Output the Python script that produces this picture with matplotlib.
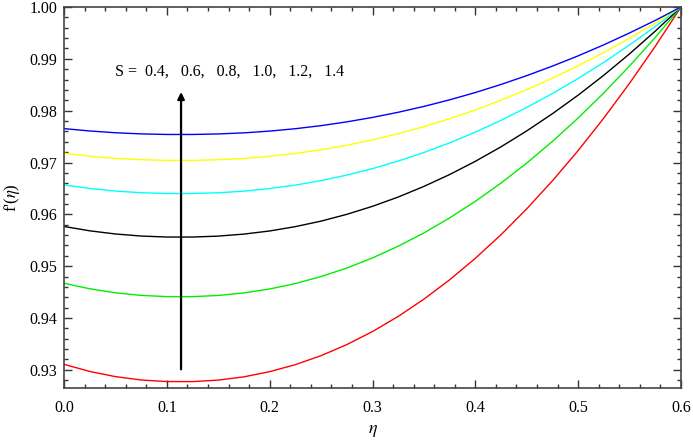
import matplotlib
matplotlib.use("Agg")
import matplotlib.pyplot as plt
from matplotlib.ticker import MultipleLocator

plt.rcParams['font.family'] = ['Liberation Serif', 'DejaVu Serif']
plt.rcParams['mathtext.fontset'] = 'stix'

eta = [0.0, 0.025, 0.05, 0.075, 0.1, 0.125, 0.15, 0.175, 0.2, 0.225, 0.25,
       0.275, 0.3, 0.325, 0.35, 0.375, 0.4, 0.425, 0.45, 0.475, 0.5, 0.525,
       0.55, 0.575, 0.6]

S_labels = ["0.4", "0.6", "0.8", "1.0", "1.2", "1.4"]

f_S04 = [0.93106, 0.92969, 0.92869, 0.92804, 0.92774, 0.92773, 0.92802, 0.92865,
         0.92965, 0.93100, 0.93274, 0.93487, 0.93739, 0.94031, 0.94364, 0.94737,
         0.95152, 0.95608, 0.96107, 0.96648, 0.97231, 0.97859, 0.98530, 0.99243, 1.0]
f_S06 = [0.94670, 0.94564, 0.94486, 0.94436, 0.94413, 0.94412, 0.94435, 0.94484,
         0.94560, 0.94665, 0.94800, 0.94964, 0.95159, 0.95385, 0.95642, 0.95931,
         0.96251, 0.96604, 0.96990, 0.97408, 0.97859, 0.98344, 0.98864, 0.99414, 1.0]
f_S08 = [0.95766, 0.95682, 0.95621, 0.95581, 0.95562, 0.95562, 0.95580, 0.95619,
         0.95679, 0.95763, 0.95869, 0.96000, 0.96155, 0.96334, 0.96539, 0.96768,
         0.97023, 0.97303, 0.97610, 0.97942, 0.98300, 0.98685, 0.99097, 0.99535, 1.0]
f_S10 = [0.96567, 0.96499, 0.96449, 0.96417, 0.96402, 0.96402, 0.96416, 0.96447,
         0.96497, 0.96564, 0.96651, 0.96757, 0.96882, 0.97028, 0.97193, 0.97379,
         0.97586, 0.97813, 0.98062, 0.98331, 0.98621, 0.98934, 0.99268, 0.99623, 1.0]
f_S12 = [0.97178, 0.97121, 0.97080, 0.97054, 0.97041, 0.97041, 0.97053, 0.97079,
         0.97120, 0.97175, 0.97246, 0.97333, 0.97437, 0.97556, 0.97692, 0.97845,
         0.98015, 0.98202, 0.98406, 0.98628, 0.98866, 0.99123, 0.99398, 0.99690, 1.0]
f_S14 = [0.97654, 0.97608, 0.97574, 0.97552, 0.97541, 0.97541, 0.97551, 0.97572,
         0.97606, 0.97652, 0.97711, 0.97784, 0.97870, 0.97969, 0.98082, 0.98209,
         0.98350, 0.98506, 0.98676, 0.98860, 0.99058, 0.99271, 0.99500, 0.99742, 1.0]

series = [f_S04, f_S06, f_S08, f_S10, f_S12, f_S14]
colors = ['#ff0000', '#00ee00', '#000000', '#00ffff', '#ffff00', '#0000ff']

fig = plt.figure(figsize=(6.93, 4.43), dpi=100)
ax = fig.add_axes([0.0924, 0.1242, 0.8903, 0.8600])

for ys, c in zip(series, colors):
    ax.plot(eta, ys, color=c, lw=1.0)

ax.set_xlim(0.0, 0.6)
ax.set_ylim(0.9265, 1.0)
ax.xaxis.set_major_locator(MultipleLocator(0.1))
ax.xaxis.set_minor_locator(MultipleLocator(0.02))
ax.yaxis.set_major_locator(MultipleLocator(0.01))
ax.yaxis.set_minor_locator(MultipleLocator(0.002))
ax.xaxis.set_major_formatter(plt.FuncFormatter(lambda v, p: f"{v:.1f}"))
ax.yaxis.set_major_formatter(plt.FuncFormatter(lambda v, p: f"{v:.2f}"))
ax.tick_params(which='both', direction='in', top=True, right=True,
               color='#333333', labelsize=11.5, width=1.0)
ax.tick_params(which='major', length=6)
ax.tick_params(axis='x', which='major', pad=9)
ax.tick_params(axis='y', which='major', pad=5)
ax.tick_params(which='minor', length=3)
for sp in ax.spines.values():
    sp.set_color('#444444')
    sp.set_linewidth(1.2)

ax.set_xlabel(r"$\eta$", fontsize=13, labelpad=4)
ax.set_ylabel(r"f'($\eta$)", fontsize=12)
ax.yaxis.set_label_coords(-0.0685, 0.5)

ax.annotate("", xy=(0.1138, 0.9836), xytext=(0.1138, 0.9301),
            arrowprops=dict(arrowstyle='-|>', color='black', lw=1.6,
                            mutation_scale=10, shrinkA=0, shrinkB=0))
ax.text(0.0496, 0.98745, "S =  " + ",   ".join(S_labels), fontsize=11.5,
        ha='left', va='center')

fig.savefig("out.png", dpi=100)
